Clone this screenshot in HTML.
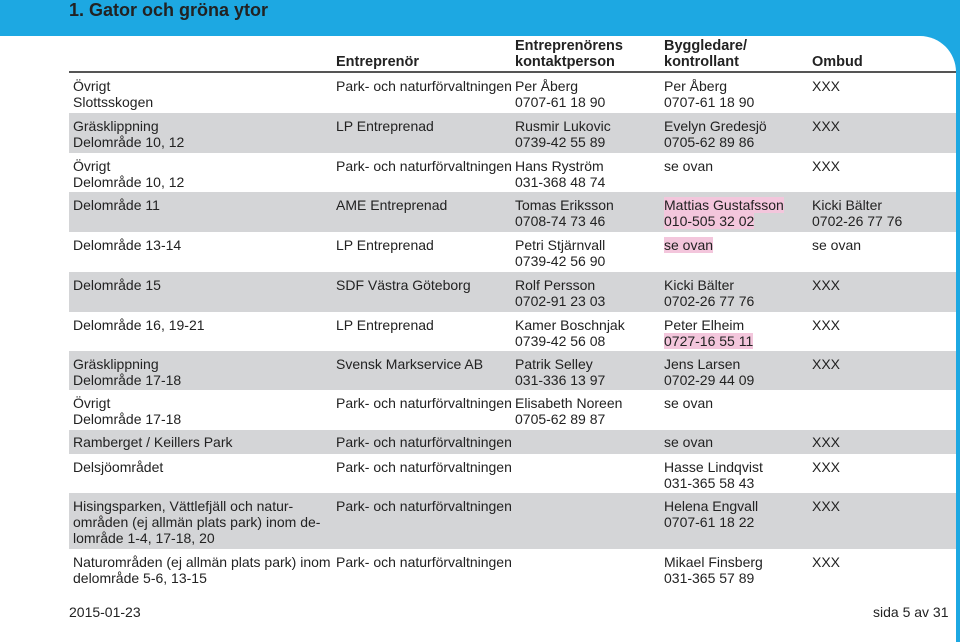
<!DOCTYPE html>
<html><head><meta charset="utf-8"><style>
body{margin:0;width:960px;height:642px;background:#1da8e2;font-family:"Liberation Sans",sans-serif;position:relative;overflow:hidden;color:#222}
#sheet{position:absolute;left:0;top:36px;width:956px;height:606px;background:#fff;border-top-right-radius:36px}
h1{position:absolute;left:69px;top:-1px;margin:0;font-size:18px;line-height:22px;color:#222;font-weight:bold}
.hdr{position:absolute;font-weight:bold;font-size:14.5px;line-height:16px;color:#222}
.rule{position:absolute;left:69px;top:71px;width:887px;height:2px;background:#555}
.row{position:absolute;left:69px;width:887px}
.g{background:#d4d5d7}
.c{position:absolute;top:5px;font-size:14px;line-height:16px;white-space:nowrap}
.pk{background:#f3c6dc}
.foot{position:absolute;top:604px;font-size:14px}
</style></head><body>
<h1>1. Gator och gröna ytor</h1>
<div id="sheet"></div>
<div class="hdr" style="left:336px;top:54px">Entreprenör</div>
<div class="hdr" style="left:515px;top:38px">Entreprenörens<br>kontaktperson</div>
<div class="hdr" style="left:664px;top:38px">Byggledare/<br>kontrollant</div>
<div class="hdr" style="left:812px;top:54px">Ombud</div>
<div class="rule"></div>
<div id="rows"></div>
<div class="foot" style="left:69px">2015-01-23</div>
<div class="foot" style="left:873px">sida 5 av 31</div>
<script>
const rowsData=[
[73,40,0,"Övrigt<br>Slottsskogen","Park- och naturförvaltningen","Per Åberg<br>0707-61 18 90","Per Åberg<br>0707-61 18 90","XXX"],
[113,40,1,"Gräsklippning<br>Delområde 10, 12","LP Entreprenad","Rusmir Lukovic<br>0739-42 55 89","Evelyn Gredesjö<br>0705-62 89 86","XXX"],
[153,40,0,"Övrigt<br>Delområde 10, 12","Park- och naturförvaltningen","Hans Ryström<br>031-368 48 74","se ovan","XXX"],
[192,40,1,"Delområde 11","AME Entreprenad","Tomas Eriksson<br>0708-74 73 46","<span class='pk'>Mattias Gustafsson</span><br><span class='pk'>010-505 32 02</span>","Kicki Bälter<br>0702-26 77 76"],
[232,40,0,"Delområde 13-14","LP Entreprenad","Petri Stjärnvall<br>0739-42 56 90","<span class='pk'>se ovan</span>","se ovan"],
[272,40,1,"Delområde 15","SDF Västra Göteborg","Rolf Persson<br>0702-91 23 03","Kicki Bälter<br>0702-26 77 76","XXX"],
[312,39,0,"Delområde 16, 19-21","LP Entreprenad","Kamer Boschnjak<br>0739-42 56 08","Peter Elheim<br><span class='pk'>0727-16 55 11</span>","XXX"],
[351,39,1,"Gräsklippning<br>Delområde 17-18","Svensk Markservice AB","Patrik Selley<br>031-336 13 97","Jens Larsen<br>0702-29 44 09","XXX"],
[390,40,0,"Övrigt<br>Delområde 17-18","Park- och naturförvaltningen","Elisabeth Noreen<br>0705-62 89 87","se ovan",""],
[430,24,1,"Ramberget / Keillers Park","Park- och naturförvaltningen","","se ovan","XXX"],
[454,39,0,"Delsjöområdet","Park- och naturförvaltningen","","Hasse Lindqvist<br>031-365 58 43","XXX"],
[493,56,1,"Hisingsparken, Vättlefjäll och natur-<br>områden (ej allmän plats park) inom de-<br>lområde 1-4, 17-18, 20","Park- och naturförvaltningen","","Helena Engvall<br>0707-61 18 22","XXX"],
[549,40,0,"Naturområden (ej allmän plats park) inom<br>delområde 5-6, 13-15","Park- och naturförvaltningen","","Mikael Finsberg<br>031-365 57 89","XXX"]];
const colX=[4,267,446,595,743];
const colNames=['area','entreprenor','kontaktperson','byggledare','ombud'];
const host=document.getElementById('rows');
rowsData.forEach((r,i)=>{
 const d=document.createElement('div');
 d.className='row'+(r[2]?' g':'');
 d.style.top=r[0]+'px';d.style.height=r[1]+'px';
 
 
 for(let k=0;k<5;k++){
  const c=document.createElement('div');c.className='c';
  c.style.left=colX[k]+'px';c.innerHTML=r[3+k];
  if(r[1]<30)c.style.top='4px';
  
  
  d.appendChild(c);
 }
 host.appendChild(d);
});
</script>
</body></html>
